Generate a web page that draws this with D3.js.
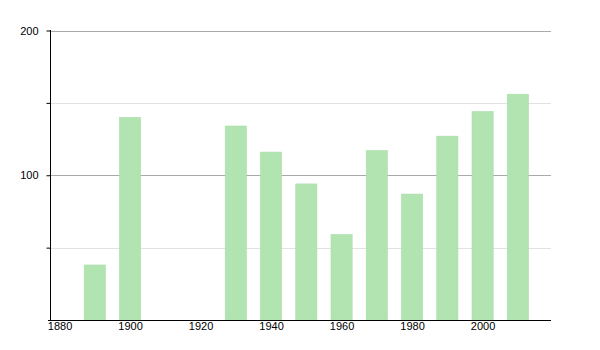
<!DOCTYPE html>
<html><head><meta charset="utf-8">
<script src="https://cdn.jsdelivr.net/npm/d3@7"></script>
<style>body{margin:0;background:#fff}svg{display:block}</style>
</head><body><svg id="c" width="600" height="350"></svg>
<script>
const years = [1890, 1900, 1930, 1940, 1950, 1960, 1970, 1980, 1990, 2000, 2010];
const values = [38, 140, 134, 116, 94, 59, 117, 87, 127, 144, 156];
const xTicks = [1880, 1900, 1920, 1940, 1960, 1980, 2000];
const yMajor = [100, 200];
const yMinor = [50, 150];

const svg = d3.select("#c");
const x = d3.scaleLinear().domain([1877.3, 2019.4]).range([50, 551]);
const y = d3.scaleLinear().domain([0, 200]).range([320, 30.5]);
const font = "Liberation Sans, Arial, sans-serif";

// gridlines
svg.append("g").selectAll("line").data(yMinor).join("line")
  .attr("x1", 50).attr("x2", 551).attr("y1", d => Math.round(y(d)) + 0.5).attr("y2", d => Math.round(y(d)) + 0.5)
  .attr("stroke", "#e2e2e2");
svg.append("g").selectAll("line").data(yMajor).join("line")
  .attr("x1", 50).attr("x2", 551).attr("y1", d => Math.round(y(d)) + 0.5).attr("y2", d => Math.round(y(d)) + 0.5)
  .attr("stroke", "#aaaaaa");

// bars
svg.append("g").selectAll("rect").data(years).join("rect")
  .attr("x", d => x(d - 3)).attr("width", d => x(d + 3) - x(d - 3))
  .attr("y", (d, i) => y(values[i])).attr("height", (d, i) => y(0) - y(values[i]))
  .attr("fill", "#b1e4b1").attr("stroke", "#a9dca9").attr("stroke-width", 0.6);

// y axis
const yAxis = d3.axisLeft(y).tickValues([50, 100, 150, 200]).tickSize(4)
  .tickFormat(d => yMajor.includes(d) ? d : "");
const gy = svg.append("g").attr("transform", "translate(50.5,0)").call(yAxis);
gy.select(".domain").remove();
gy.selectAll(".tick line").attr("stroke", "#000");
gy.selectAll(".tick text").attr("font-family", font).attr("font-size", 11).attr("fill", "#000").attr("x", -12);
svg.append("line").attr("x1", 50.5).attr("x2", 50.5).attr("y1", 30).attr("y2", 320.5).attr("stroke", "#000");

// x axis
const xAxis = d3.axisBottom(x).tickValues(xTicks).tickSize(0).tickFormat(d3.format("d"));
const gx = svg.append("g").attr("transform", "translate(0,320.5)").call(xAxis);
gx.select(".domain").remove();
gx.selectAll(".tick text").attr("font-family", font).attr("font-size", 11).attr("fill", "#000").attr("dy", "0.71em").attr("y", 2);
svg.append("line").attr("x1", 48).attr("x2", 551).attr("y1", 320.5).attr("y2", 320.5).attr("stroke", "#000");
</script></body></html>
